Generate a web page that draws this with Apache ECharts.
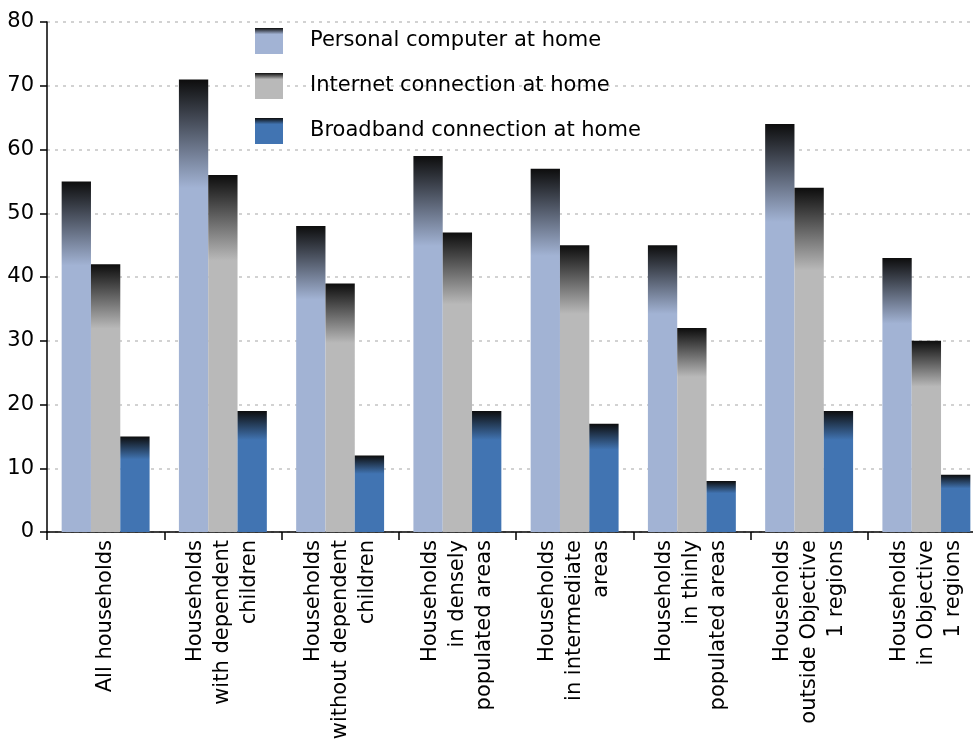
<!DOCTYPE html>
<html>
<head>
<meta charset="utf-8">
<script src="https://cdn.jsdelivr.net/npm/echarts@6/dist/echarts.min.js"></script>
<style>
  html, body { margin: 0; padding: 0; background: #fff; overflow: hidden; }
  #chart { width: 973px; height: 749px; }
</style>
</head>
<body>
<div id="chart"></div>
<script>
// Household access, percent
const categories = [
  'All households',
  'Households\nwith dependent\nchildren',
  'Households\nwithout dependent\nchildren',
  'Households\nin densely\npopulated areas',
  'Households\nin intermediate\nareas',
  'Households\nin thinly\npopulated areas',
  'Households\noutside Objective\n1 regions',
  'Households\nin Objective\n1 regions'
];
const seriesNames = [
  'Personal computer at home',
  'Internet connection at home',
  'Broadband connection at home'
];
const personalComputer = [55, 71, 48, 59, 57, 45, 64, 43];
const internetConnection = [42, 56, 39, 47, 45, 32, 54, 30];
const broadbandConnection = [15, 19, 12, 19, 17, 8, 19, 9];
const yTicks = [0, 10, 20, 30, 40, 50, 60, 70, 80];

const baseColors = ['#a2b3d4', '#b9b9b9', '#4174b2'];
const values = [personalComputer, internetConnection, broadbandConnection];

// Each bar fades from near-black at the top into its own colour
function shaded(base) {
  return new echarts.graphic.LinearGradient(0, 0, 0, 1, [
    { offset: 0, color: '#0d0d0d' },
    { offset: 0.24, color: base },
    { offset: 1, color: base }
  ]);
}

const font = 'DejaVu Sans, Verdana, sans-serif';
const chart = echarts.init(document.getElementById('chart'));
chart.setOption({
  animation: false,
  // the last category runs slightly past the right edge of the canvas
  grid: { left: 47, top: 22, width: 938, bottom: 217, containLabel: false, outerBoundsMode: 'none' },
  legend: {
    orient: 'vertical',
    left: 250,
    top: 23,
    itemWidth: 28,
    itemHeight: 26,
    itemGap: 19,
    icon: 'rect',
    data: seriesNames,
    textStyle: { fontFamily: font, fontSize: 21, color: '#000', padding: [0, 0, 0, 22] }
  },
  xAxis: {
    type: 'category',
    data: categories,
    axisLine: { lineStyle: { color: '#000', width: 1.5 } },
    axisTick: { show: true, length: 8, lineStyle: { color: '#000', width: 1.5 } },
    axisLabel: {
      interval: 0,
      rotate: 90,
      margin: 8,
      fontFamily: font,
      fontSize: 21,
      color: '#000',
      lineHeight: 27,
      align: 'right'
    }
  },
  yAxis: {
    type: 'value',
    min: yTicks[0],
    max: yTicks[yTicks.length - 1],
    interval: 10,
    axisLine: { show: true, lineStyle: { color: '#000', width: 1.5 } },
    axisTick: { show: true, length: 7, lineStyle: { color: '#000', width: 1.5 } },
    axisLabel: { fontFamily: font, fontSize: 21, color: '#000', margin: 13 },
    splitLine: { lineStyle: { color: '#c4c4c4', type: [3, 5], width: 1.5 } }
  },
  series: seriesNames.map((name, i) => ({
    name: name,
    type: 'bar',
    data: values[i],
    barWidth: '25%',
    barGap: '0%',
    itemStyle: { color: shaded(baseColors[i]) }
  }))
});
</script>
</body>
</html>
